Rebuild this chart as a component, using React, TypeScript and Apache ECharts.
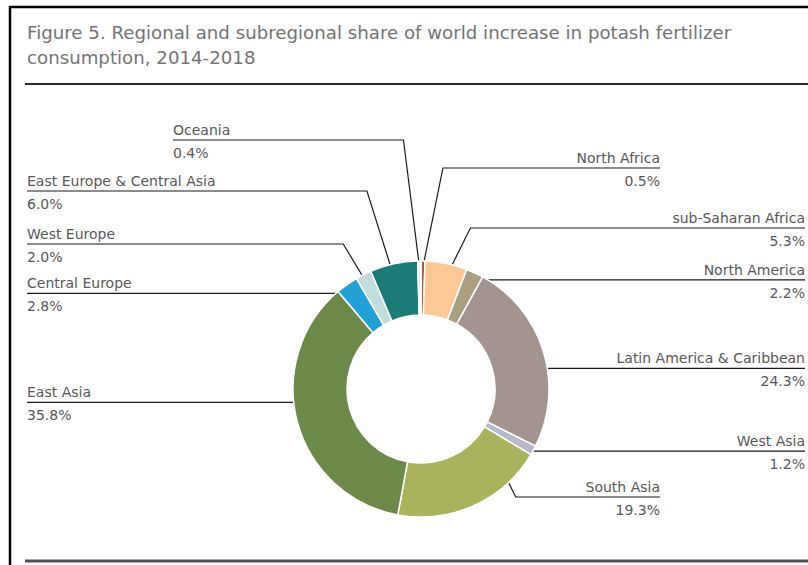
import React, { useEffect, useRef } from "react";
import * as echarts from "echarts";

// ---- data ----
const regions = [
  "North Africa",
  "sub-Saharan Africa",
  "North America",
  "Latin America & Caribbean",
  "West Asia",
  "South Asia",
  "East Asia",
  "Central Europe",
  "West Europe",
  "East Europe & Central Asia",
  "Oceania",
];
const shares = [0.5, 5.3, 2.2, 24.3, 1.2, 19.3, 35.8, 2.8, 2.0, 6.0, 0.4];
const sliceColors = [
  "#b0523a",
  "#fcc996",
  "#a9a07f",
  "#a39490",
  "#b6b9c9",
  "#a8b35c",
  "#6b8a4a",
  "#22a0d8",
  "#c0dcdc",
  "#1b7b76",
  "#dcefef",
];
const titleLines = [
  "Figure 5. Regional and subregional share of world increase in potash fertilizer",
  "consumption, 2014-2018",
];

// ---- layout (positions only) ----
const CX = 421;
const CY = 389;
const R_OUT = 128;
const R_IN = 74;
const R_ANCHOR = 122;
const NAME_LH = 20;
const VAL_LH = 26;
const FONT = "DejaVu Sans";

type Lay = { side: "left" | "right"; textX: number; lineY?: number; t: number; elbowDx?: number };
const labelLayouts: Lay[] = [
  { side: "right", textX: 660, lineY: 168, t: 0.5, elbowDx: 20 },
  { side: "right", textX: 805, lineY: 228, t: 0.61, elbowDx: 21 },
  { side: "right", textX: 805, t: 0.72 },
  { side: "right", textX: 805, t: 0.587 },
  { side: "right", textX: 805, t: 0.95 },
  { side: "right", textX: 660, lineY: 497, t: 0.218, elbowDx: 10 },
  { side: "left", textX: 27, t: 0.567 },
  { side: "left", textX: 27, t: 0.2 },
  { side: "left", textX: 27, lineY: 244, t: 0.43, elbowDx: -22 },
  { side: "left", textX: 27, lineY: 191, t: 0.43, elbowDx: -25 },
  { side: "left", textX: 173, lineY: 140, t: 0.5, elbowDx: -16 },
];

function anchorOf(i: number, t: number) {
  const total = shares.reduce((a, b) => a + b, 0);
  let before = 0;
  for (let k = 0; k < i; k++) before += shares[k];
  const frac = (before + shares[i] * t) / total;
  const th = frac * 2 * Math.PI;
  return { x: CX + R_ANCHOR * Math.sin(th), y: CY - R_ANCHOR * Math.cos(th) };
}

export default function App() {
  const ref = useRef<HTMLDivElement>(null);
  useEffect(() => {
    if (!ref.current) return;
    const chart = echarts.init(ref.current, undefined, { renderer: "svg" });
    const textBase = { fontFamily: FONT, fontSize: 14, color: "#585858" };
    chart.setOption({
      animation: false,
      backgroundColor: "#fff",
      title: {
        text: titleLines.join("\n"),
        left: 27,
        top: 20,
        padding: 0,
        textStyle: {
          fontFamily: FONT,
          fontSize: 18.2,
          fontWeight: "normal",
          color: "#747474",
          lineHeight: 25,
        },
      },
      graphic: [
        { type: "line", shape: { x1: 9, y1: 7, x2: 808, y2: 7 }, style: { stroke: "#000", lineWidth: 2.5 } },
        { type: "line", shape: { x1: 10, y1: 6, x2: 10, y2: 565 }, style: { stroke: "#000", lineWidth: 2.5 } },
        { type: "line", shape: { x1: 25, y1: 84, x2: 808, y2: 84 }, style: { stroke: "#2a2a2a", lineWidth: 2 } },
        { type: "line", shape: { x1: 25, y1: 561, x2: 808, y2: 561 }, style: { stroke: "#505050", lineWidth: 3 } },
      ],
      series: [
        {
          type: "pie",
          center: [CX, CY],
          radius: [R_IN, R_OUT],
          startAngle: 90,
          clockwise: true,
          avoidLabelOverlap: false,
          silent: true,
          itemStyle: { borderColor: "#fff", borderWidth: 1.5 },
          data: regions.map((name, i) => ({
            name,
            value: shares[i],
            itemStyle: { color: sliceColors[i] },
          })),
          label: {
            show: true,
            position: "outside",
            formatter: (p: any) => {
              const s = labelLayouts[p.dataIndex].side === "left" ? "l" : "r";
              return `{n${s}|${p.name}}\n{v${s}|${Number(p.value).toFixed(1)}%}`;
            },
            rich: {
              nl: { ...textBase, lineHeight: NAME_LH, align: "left" },
              vl: { ...textBase, lineHeight: VAL_LH, align: "left" },
              nr: { ...textBase, lineHeight: NAME_LH, align: "right" },
              vr: { ...textBase, lineHeight: VAL_LH, align: "right" },
            },
          },
          labelLine: {
            show: true,
            length: 10,
            length2: 10,
            lineStyle: { color: "#1a1a1a", width: 1.2 },
          },
          labelLayout: (params: any) => {
            const i = params.dataIndex;
            const L = labelLayouts[i];
            const a = anchorOf(i, L.t);
            const lineY = L.lineY !== undefined ? L.lineY : a.y;
            const elbow =
              L.elbowDx !== undefined ? [a.x + L.elbowDx, lineY] : [a.x, lineY];
            return {
              x: L.textX,
              y: lineY - NAME_LH,
              align: L.side,
              verticalAlign: "top",
              labelLinePoints: [[a.x, a.y], elbow, [L.textX, lineY]],
            };
          },
        },
      ],
    });
    return () => chart.dispose();
  }, []);
  return (
    <div
      ref={ref}
      style={{ position: "absolute", left: 0, top: 0, width: 808, height: 565, background: "#fff" }}
    />
  );
}
